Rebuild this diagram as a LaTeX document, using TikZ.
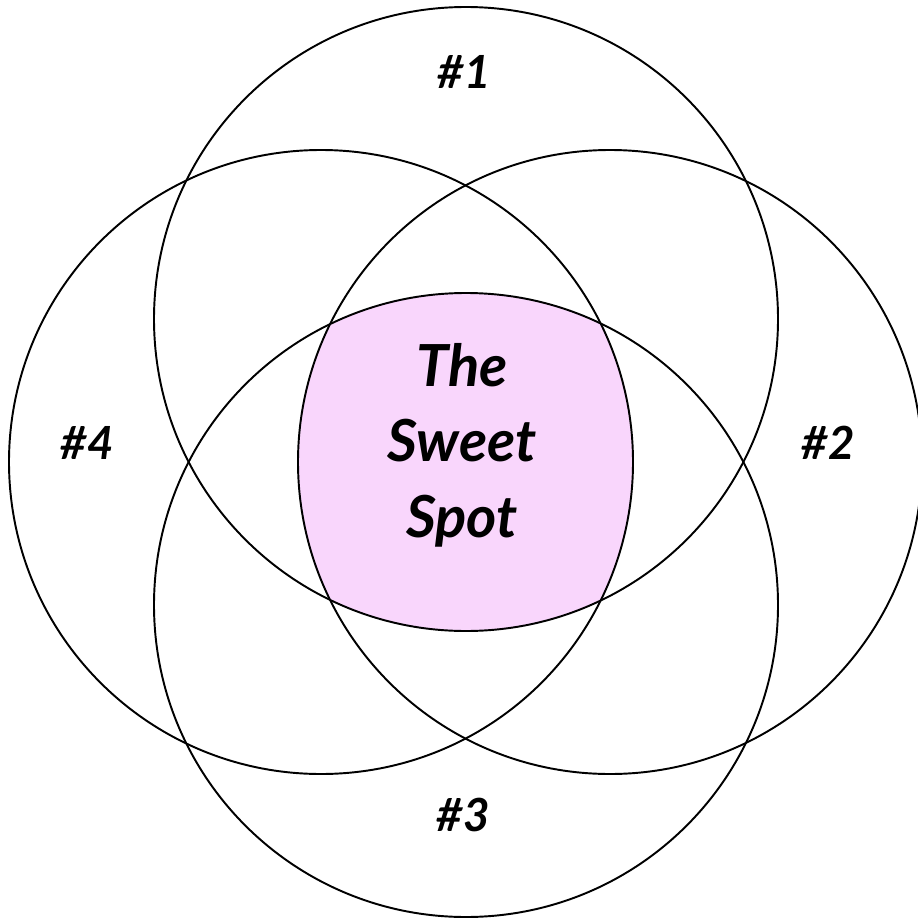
\documentclass[tikz,border=0pt]{standalone}
\usepackage{fontspec}
\setmainfont{Lato}
\usetikzlibrary{positioning}
\definecolor{sweetpink}{HTML}{F9D6FC}
\tikzset{
    venncircle/.style={draw=black, line width=1.1pt},
    numlabel/.style={font=\fontsize{26}{30}\selectfont\bfseries\itshape, inner sep=0pt},
    spotlabel/.style={font=\fontsize{33}{43}\selectfont\bfseries\itshape, align=center, inner sep=0pt}
}
\begin{document}
\begin{tikzpicture}[x=0.02cm, y=-0.02cm]
    \useasboundingbox (0,0) rectangle (917,919);
    % centres of the four sets
    \coordinate (c1) at (466,319);
    \coordinate (c2) at (610,462);
    \coordinate (c3) at (466,605);
    \coordinate (c4) at (321,462);

    % overlap of all four
    \begin{scope}
        \clip (c1) circle[radius=312];
        \clip (c2) circle[radius=312];
        \clip (c3) circle[radius=312];
        \fill[sweetpink] (c4) circle[radius=312];
    \end{scope}

    \draw[venncircle] (c1) circle[radius=312];
    \draw[venncircle] (c2) circle[radius=312];
    \draw[venncircle] (c3) circle[radius=312];
    \draw[venncircle] (c4) circle[radius=312];

    \node[numlabel] (one) at (464,72) {\#1};
    \node[numlabel] (two) at (828,443) {\#2};
    \node[numlabel] (three) at (463,815) {\#3};
    \node[numlabel] (four) at (87,443) {\#4};
    \node[spotlabel] (spot) at (462,445) {The\\Sweet\\Spot};
\end{tikzpicture}
\end{document}
